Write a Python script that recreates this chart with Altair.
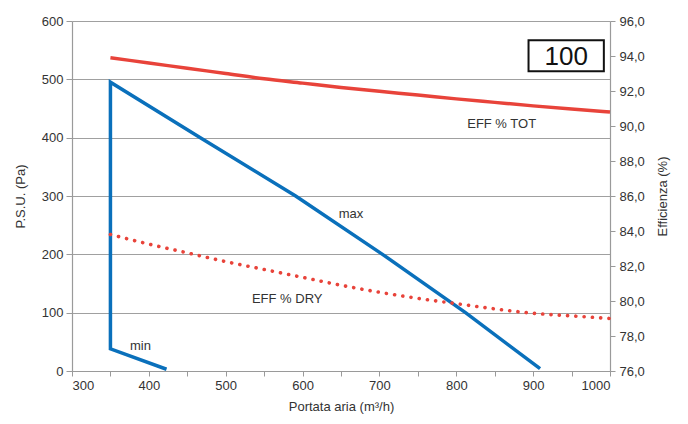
import altair as alt
import pandas as pd

# Blue P.S.U. curve (min branch, vertical limit, max branch), in path order
flow_psu = [423, 350, 350, 467, 591, 704, 812, 909]
psu = [3, 38, 495, 400, 300, 200, 100, 4]

# Efficiency curves (right axis)
flow_eff = [350, 400, 450, 500, 550, 600, 650, 700, 750, 800, 850, 900, 950, 1000]
eff_tot = [93.9, 93.6, 93.3, 93.0, 92.7, 92.45, 92.2, 91.98, 91.77, 91.55, 91.35, 91.15, 90.97, 90.8]
eff_dry = [83.8, 83.25, 82.75, 82.25, 81.8, 81.35, 80.9, 80.5, 80.15, 79.85, 79.55, 79.3, 79.15, 79.0]

# Curve labels (data coordinates, left axis)
label_text = ["max", "min", "EFF % TOT", "EFF % DRY"]
label_x = [663, 389, 859, 580]
label_y = [270, 43, 424, 123]

# Model badge
badge_text = ["100"]
badge_x = [894]
badge_x2 = [992]
badge_y = [514]
badge_y2 = [567]

x_ticks = list(range(300, 1001, 50))
y_ticks = list(range(0, 601, 100))
eff_ticks = list(range(76, 97, 2))

BLUE = "#0a70bb"
RED = "#e8433a"
FONT = "Liberation Sans"
NARROW = "Liberation Sans Narrow, Liberation Sans"

xscale = alt.Scale(domain=[300, 1000], nice=False, zero=False)
xaxis = alt.Axis(
    values=x_ticks,
    format="d",
    labelExpr="datum.value % 100 == 0 ? datum.label : ''",
    title="Portata aria (m³/h)",
    grid=False,
    tickSize=5,
    labelPadding=3,
    titlePadding=8,
)
yscale = alt.Scale(domain=[0, 600], nice=False, zero=True)
yaxis = alt.Axis(
    values=y_ticks,
    title="P.S.U. (Pa)",
    grid=True,
    gridColor="#a0a0a0",
    gridWidth=1.2,
    tickSize=6,
    labelPadding=3,
    titlePadding=14,
)
x_enc = alt.X("x:Q", scale=xscale, axis=xaxis)
y_enc = alt.Y("y:Q", scale=yscale, axis=yaxis)

df_psu = pd.DataFrame({"x": flow_psu, "y": psu, "o": list(range(len(psu)))})
blue = alt.Chart(df_psu).mark_line(color=BLUE, strokeWidth=3.5, strokeJoin="miter").encode(
    x=x_enc, y=y_enc, order="o:O"
)

df_lab = pd.DataFrame({"x": label_x, "y": label_y, "t": label_text})
labels = alt.Chart(df_lab).mark_text(
    font=NARROW, fontSize=13, color="#333333", align="center", baseline="middle"
).encode(x=x_enc, y=y_enc, text="t:N")

df_badge = pd.DataFrame({"x": badge_x, "x2": badge_x2, "y": badge_y, "y2": badge_y2, "t": badge_text})
badge_rect = alt.Chart(df_badge).mark_rect(fill="white", stroke="#111111", strokeWidth=2).encode(
    x=x_enc, x2="x2:Q", y=y_enc, y2="y2:Q"
)
badge_txt = alt.Chart(df_badge).transform_calculate(
    xm="(datum.x + datum.x2) / 2", ym="(datum.y + datum.y2) / 2"
).mark_text(font=NARROW, fontSize=26, color="#111111", align="center", baseline="middle", dy=1).encode(
    x=alt.X("xm:Q", scale=xscale, axis=xaxis), y=alt.Y("ym:Q", scale=yscale, axis=yaxis), text="t:N"
)

left = alt.layer(blue, labels, badge_rect, badge_txt)

escale = alt.Scale(domain=[76, 96], nice=False, zero=False)
eaxis = alt.Axis(
    orient="right",
    values=eff_ticks,
    labelExpr="replace(format(datum.value, '.1f'), '.', ',')",
    title="Efficienza (%)",
    titleAngle=270,
    grid=False,
    tickSize=5,
    labelPadding=4,
    titlePadding=25,
)
df_eff = pd.DataFrame({"x": flow_eff, "tot": eff_tot, "dry": eff_dry})
tot = alt.Chart(df_eff).mark_line(color=RED, strokeWidth=3.5, interpolate="monotone").encode(
    x=x_enc, y=alt.Y("tot:Q", scale=escale, axis=eaxis)
)
dry = alt.Chart(df_eff).mark_line(
    color=RED, strokeWidth=3.6, interpolate="monotone", strokeDash=[0.1, 8.2], strokeCap="round"
).encode(x=x_enc, y=alt.Y("dry:Q", scale=escale, axis=eaxis))
right = alt.layer(tot, dry)

chart = (
    alt.layer(left, right)
    .resolve_scale(y="independent")
    .properties(
        width=538,
        height=350,
        autosize=alt.AutoSizeParams(type="none"),
        padding={"left": 64, "top": 13, "right": 62, "bottom": 50},
    )
    .configure_view(stroke=None)
    .configure_axis(
        domainColor="#9a9a9a",
        tickColor="#9a9a9a",
        domainWidth=1.2,
        labelColor="#333333",
        labelFont=FONT,
        labelFontSize=13,
        titleFont=FONT,
        titleFontSize=13,
        titleFontWeight="normal",
        titleColor="#333333",
    )
)

chart.save("out.html", embed_options={"renderer": "svg", "actions": False})
